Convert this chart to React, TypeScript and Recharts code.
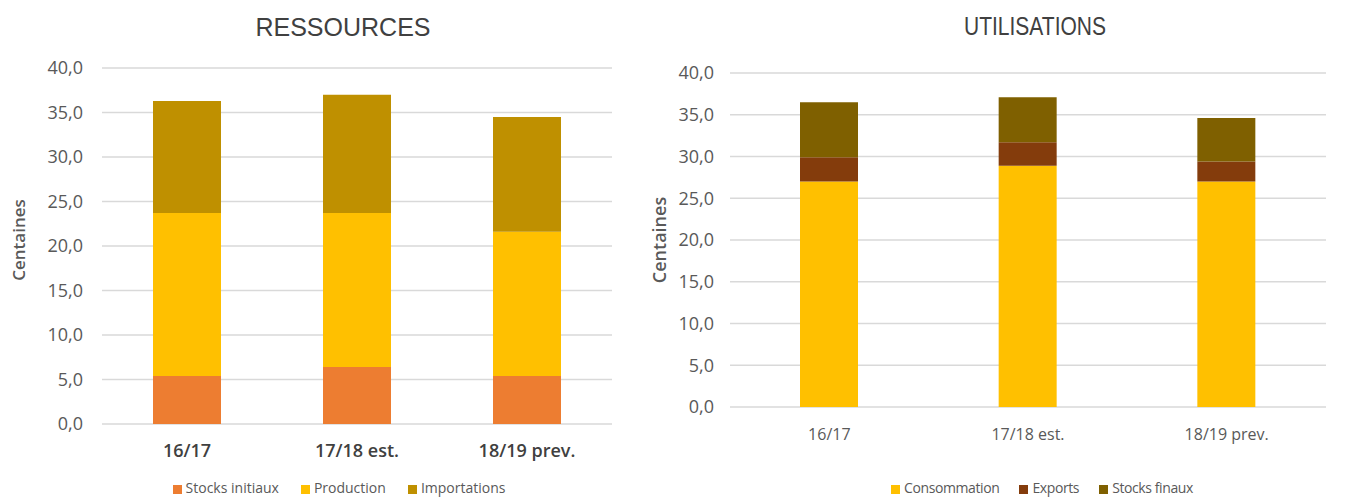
import { BarChart, Bar, XAxis, YAxis, CartesianGrid, Legend } from "recharts";

const campaigns = ["16/17", "17/18 est.", "18/19 prev."];
const yTicks = [0, 5, 10, 15, 20, 25, 30, 35, 40];

// Ressources (centaines)
const stocksInitiaux = [5.4, 6.4, 5.4];
const production = [18.3, 17.3, 16.2];
const importations = [12.6, 13.3, 12.9];

// Utilisations (centaines)
const consommation = [27.0, 28.9, 27.0];
const exportsVals = [2.9, 2.8, 2.4];
const stocksFinaux = [6.6, 5.4, 5.2];

const ressources = campaigns.map((c, i) => ({
  name: c,
  stocks: stocksInitiaux[i],
  production: production[i],
  imports: importations[i],
}));

const utilisations = campaigns.map((c, i) => ({
  name: c,
  conso: consommation[i],
  exports: exportsVals[i],
  stocks: stocksFinaux[i],
}));

const legendOrder = ["Stocks initiaux", "Production", "Importations", "Consommation", "Exports", "Stocks finaux"];

const fmt = (v: number) => v.toFixed(1).replace(".", ",");
const legendText = (value: string) => (
  <span style={{ color: "#595959", fontSize: 14, fontFamily: "Open Sans", paddingRight: 12 }}>{value}</span>
);
const legendTextNarrow = (value: string) => (
  <span style={{ color: "#595959", fontSize: 14, fontFamily: "Open Sans", letterSpacing: -0.4, paddingRight: 10 }}>
    {value}
  </span>
);
const sortLegend = (item: any) => legendOrder.indexOf(item.value);

export default function App() {
  return (
    <div style={{ position: "fixed", left: 0, top: 0, width: 1349, height: 498, background: "#fff", overflow: "hidden" }}>
      <div
        style={{
          position: "absolute",
          left: 243,
          top: 15,
          width: 200,
          textAlign: "center",
          fontFamily: "Liberation Sans",
          fontSize: 25,
          lineHeight: 1,
          color: "#404040",
        }}
      >
        RESSOURCES
      </div>
      <div
        style={{
          position: "absolute",
          left: 935,
          top: 14,
          width: 200,
          textAlign: "center",
          fontFamily: "Liberation Sans",
          fontSize: 25,
          lineHeight: 1,
          color: "#404040",
          transform: "scaleX(0.84)",
        }}
      >
        UTILISATIONS
      </div>

      <div style={{ position: "absolute", left: 0, top: 0 }}>
        <BarChart width={640} height={498} data={ressources} margin={{ top: 68, right: 28, bottom: 15, left: 0 }}>
          <CartesianGrid vertical={false} stroke="#d9d9d9" strokeWidth={1.5} />
          <XAxis
            dataKey="name"
            axisLine={false}
            tickLine={false}
            tickSize={0}
            tickMargin={20}
            height={40}
            tick={{ fontSize: 18, fontWeight: 600, fill: "#404040", fontFamily: "Open Sans" }}
          />
          <YAxis
            domain={[0, 40]}
            ticks={yTicks}
            tickFormatter={fmt}
            axisLine={false}
            tickLine={false}
            tickSize={0}
            tickMargin={19}
            width={102}
            tick={{ fontSize: 18, fill: "#595959", fontFamily: "Open Sans" }}
            label={{
              value: "Centaines",
              angle: -90,
              position: "center",
              dx: -32,
              dy: -6,
              style: { fontSize: 17, fontWeight: 600, fill: "#595959", fontFamily: "Open Sans" },
            }}
          />
          <Legend
            iconType="square"
            iconSize={9}
            formatter={legendText}
            itemSorter={sortLegend}
            wrapperStyle={{ left: 150, width: 400, top: 478 }}
          />
          <Bar dataKey="stocks" name="Stocks initiaux" stackId="r" fill="#ED7D31" barSize={68} isAnimationActive={false} />
          <Bar dataKey="production" name="Production" stackId="r" fill="#FFC000" barSize={68} isAnimationActive={false} />
          <Bar dataKey="imports" name="Importations" stackId="r" fill="#BF9000" barSize={68} isAnimationActive={false} />
        </BarChart>
      </div>

      <div style={{ position: "absolute", left: 640, top: 0 }}>
        <BarChart width={709} height={498} data={utilisations} margin={{ top: 73, right: 23, bottom: 32, left: 0 }}>
          <CartesianGrid vertical={false} stroke="#d9d9d9" strokeWidth={1.5} />
          <XAxis
            dataKey="name"
            axisLine={false}
            tickLine={false}
            tickSize={0}
            tickMargin={22}
            height={40}
            tick={{ fontSize: 16, fill: "#595959", fontFamily: "Open Sans" }}
          />
          <YAxis
            domain={[0, 40]}
            ticks={yTicks}
            tickFormatter={fmt}
            axisLine={false}
            tickLine={false}
            tickSize={0}
            tickMargin={16}
            width={90}
            tick={{ fontSize: 18, fill: "#595959", fontFamily: "Open Sans" }}
            label={{
              value: "Centaines",
              angle: -90,
              position: "center",
              dx: -25,
              style: { fontSize: 18, fontWeight: 600, fill: "#595959", fontFamily: "Open Sans" },
            }}
          />
          <Legend
            iconType="square"
            iconSize={9}
            formatter={legendTextNarrow}
            itemSorter={sortLegend}
            wrapperStyle={{ left: 212, width: 400, top: 478 }}
          />
          <Bar dataKey="conso" name="Consommation" stackId="u" fill="#FFC000" barSize={58} isAnimationActive={false} />
          <Bar dataKey="exports" name="Exports" stackId="u" fill="#843C0C" barSize={58} isAnimationActive={false} />
          <Bar dataKey="stocks" name="Stocks finaux" stackId="u" fill="#7F6000" barSize={58} isAnimationActive={false} />
        </BarChart>
      </div>
    </div>
  );
}
